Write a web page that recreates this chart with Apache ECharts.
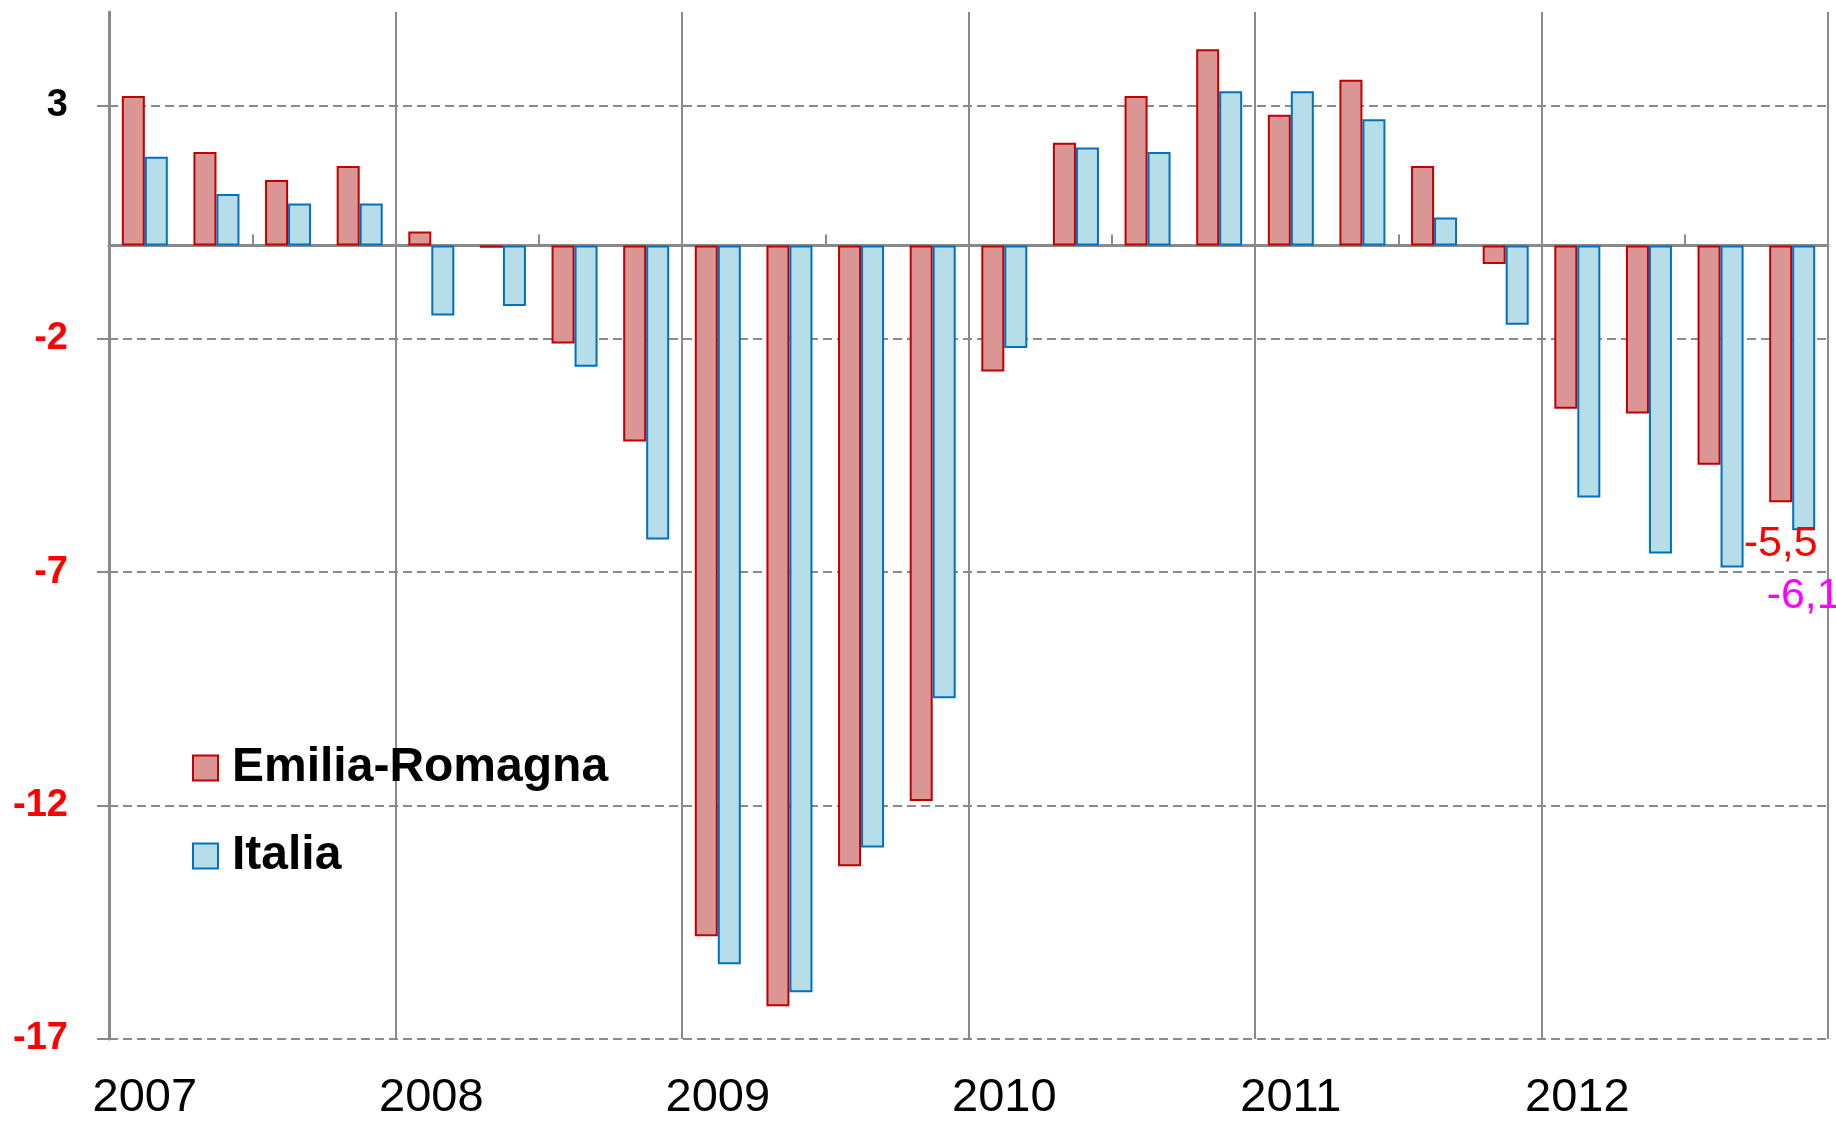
<!DOCTYPE html>
<html>
<head>
<meta charset="utf-8">
<script src="https://cdn.jsdelivr.net/npm/echarts@6/dist/echarts.min.js"></script>
<style>
  html, body { margin: 0; padding: 0; background: #fff; }
  #main { width: 1836px; height: 1122px; }
</style>
</head>
<body>
<div id="main"></div>
<script>
// dati trimestrali (variazioni tendenziali %)
var years = ['2007', '2008', '2009', '2010', '2011', '2012'];
var quarters = ['I', 'II', 'III', 'IV'];
var emilia = [3.2, 2.0, 1.4, 1.7, 0.3, -0.05, -2.1, -4.2, -14.8, -16.3, -13.3, -11.9,
              -2.7, 2.2, 3.2, 4.2, 2.8, 3.55, 1.7, -0.4, -3.5, -3.6, -4.7, -5.5];
var italia = [1.9, 1.1, 0.9, 0.9, -1.5, -1.3, -2.6, -6.3, -15.4, -16.0, -12.9, -9.7,
              -2.2, 2.1, 2.0, 3.3, 3.3, 2.7, 0.6, -1.7, -5.4, -6.6, -6.9, -6.1];
var yTicks = [-17, -12, -7, -2, 3];
var yMax = 5;

var FONT = '"Liberation Sans", Arial, sans-serif';
var GRAY = '#8a8a8a';

var categories = [];
years.forEach(function (y) {
  quarters.forEach(function (q) {
    categories.push(y + ' ' + q);
  });
});

// etichetta solo sull'ultimo trimestre
function withLastLabel(values, color, distance) {
  return values.map(function (v, i) {
    if (i !== values.length - 1) return v;
    return {
      value: v,
      label: {
        show: true,
        position: 'bottom',
        distance: distance,
        color: color,
        fontSize: 43,
        fontFamily: FONT,
        formatter: function (p) { return String(p.value).replace('.', ','); }
      }
    };
  });
}

var chart = echarts.init(document.getElementById('main'));

var option = {
  animation: false,
  backgroundColor: '#fff',
  grid: { left: 109, right: 8, top: 12, bottom: 80, containLabel: false },
  legend: {
    orient: 'vertical',
    left: 187,
    top: 737,
    icon: 'rect',
    itemWidth: 25,
    itemHeight: 25,
    itemGap: 36,
    textStyle: {
      fontSize: 48,
      fontWeight: 'bold',
      color: '#000',
      fontFamily: FONT,
      lineHeight: 52,
      padding: [0, 0, 0, 9]
    },
    data: ['Emilia-Romagna', 'Italia']
  },
  xAxis: [{
    // asse in basso: anni e linee verticali
    type: 'category',
    data: categories,
    position: 'bottom',
    axisLine: { show: false, onZero: false },
    axisTick: { show: false },
    axisLabel: {
      interval: 0,
      margin: 36,
      fontSize: 47,
      color: '#000',
      fontFamily: FONT,
      formatter: function (v, i) { return i % 4 === 0 ? years[i / 4] : ''; }
    },
    splitLine: {
      show: true,
      interval: function (i) { return i % 4 === 0; },
      lineStyle: { color: GRAY, width: 2 }
    }
  }, {
    // asse sullo zero
    type: 'category',
    data: categories,
    position: 'top',
    axisLine: { show: true, onZero: true, lineStyle: { color: GRAY, width: 3 } },
    axisTick: { show: true, inside: false, interval: 1, length: 11, lineStyle: { color: GRAY, width: 2 } },
    axisLabel: { show: false },
    splitLine: { show: false }
  }],
  yAxis: {
    type: 'value',
    min: yTicks[0],
    max: yMax,
    interval: yTicks[1] - yTicks[0],
    axisLine: { show: true, lineStyle: { color: GRAY, width: 3 } },
    axisTick: { show: true, length: 12, lineStyle: { color: GRAY, width: 2 } },
    axisLabel: {
      margin: 41,
      fontSize: 38,
      fontWeight: 'bold',
      fontFamily: FONT,
      showMaxLabel: false,
      color: function (v) { return v > 0 ? '#000' : '#ff0000'; }
    },
    splitLine: {
      show: true,
      showMaxLine: false,
      lineStyle: { color: GRAY, width: 2, type: [9, 5] }
    }
  },
  series: [{
    name: 'Emilia-Romagna',
    type: 'bar',
    xAxisIndex: 0,
    barWidth: 23,
    barGap: '0%',
    itemStyle: { color: '#d99694', borderColor: '#c00000', borderWidth: 2 },
    data: withLastLabel(emilia, '#ff0000', 20)
  }, {
    name: 'Italia',
    type: 'bar',
    xAxisIndex: 0,
    barWidth: 23,
    barGap: '0%',
    itemStyle: { color: '#b7dee8', borderColor: '#0070c0', borderWidth: 2 },
    data: withLastLabel(italia, '#ff00ff', 44)
  }]
};

chart.setOption(option);
</script>
</body>
</html>
